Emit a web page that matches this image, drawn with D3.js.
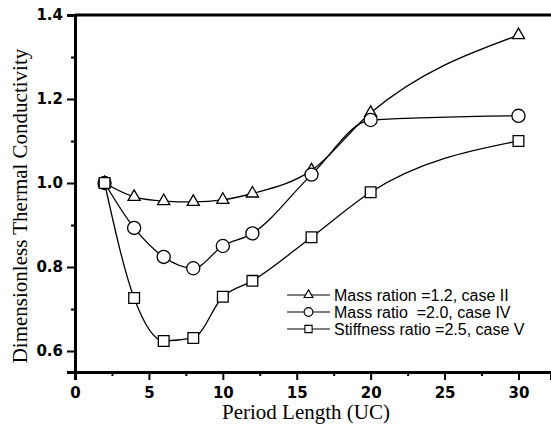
<!DOCTYPE html>
<html>
<head>
<meta charset="utf-8">
<script src="https://cdn.jsdelivr.net/npm/d3@7"></script>
<style>
  body { margin: 0; background: #fff; }
  svg { display: block; }
</style>
</head>
<body>
<div class="chart"></div>
<script>
// period lengths (UC) where each case was computed
const periods = [2, 4, 6, 8, 10, 12, 16, 20, 30];

// dimensionless thermal conductivity
const massRation12 = [1.0, 0.967, 0.957, 0.955, 0.96, 0.975, 1.03, 1.167, 1.352];
const massRatio20 = [1.0, 0.893, 0.824, 0.797, 0.85, 0.88, 1.02, 1.15, 1.16];
const stiffness25 = [1.0, 0.726, 0.624, 0.631, 0.729, 0.767, 0.871, 0.978, 1.10];

const seriesNames = [
  'Mass ration =1.2, case II',
  'Mass ratio  =2.0, case IV',
  'Stiffness ratio =2.5, case V'
];

const xTicks = [0, 5, 10, 15, 20, 25, 30];
const xMinor = [2.5, 7.5, 12.5, 17.5, 22.5, 27.5];
const yTicks = [0.6, 0.8, 1.0, 1.2, 1.4];
const yMinor = [0.7, 0.9, 1.1, 1.3];

const dims = { width: 551, height: 434 };
const margin = { left: 75, right: 0, top: 15, bottom: 62 };

const svg = d3.select('.chart')
  .append('svg')
  .attr('width', dims.width)
  .attr('height', dims.height);

const x = d3.scaleLinear()
  .domain([0, 32.2])
  .range([margin.left, dims.width - margin.right]);
const y = d3.scaleLinear()
  .domain([0.55, 1.4])
  .range([dims.height - margin.bottom, margin.top]);

const series = [
  { name: seriesNames[0], values: massRation12, symbol: d3.symbolTriangle, size: 64, legendSize: 34 },
  { name: seriesNames[1], values: massRatio20, symbol: d3.symbolCircle, size: 135, legendSize: 60 },
  { name: seriesNames[2], values: stiffness25, symbol: d3.symbolSquare, size: 115, legendSize: 52 }
];

// smooth curves through the points
const line = d3.line()
  .x(d => x(d[0]))
  .y(d => y(d[1]))
  .curve(d3.curveMonotoneX);

svg.append('g')
  .selectAll('path')
  .data(series)
  .enter()
  .append('path')
  .attr('d', s => line(periods.map((p, i) => [p, s.values[i]])))
  .attr('fill', 'none')
  .attr('stroke', '#000')
  .attr('stroke-width', 1.3);

// markers
series.forEach(s => {
  const sym = d3.symbol().type(s.symbol).size(s.size);
  svg.append('g')
    .selectAll('path')
    .data(periods.map((p, i) => [p, s.values[i]]))
    .enter()
    .append('path')
    .attr('d', sym)
    .attr('transform', d => `translate(${x(d[0])}, ${y(d[1])})`)
    .attr('fill', '#fff')
    .attr('stroke', '#000')
    .attr('stroke-width', 1.3);
});

// axes
const tickFont = 'DejaVu Sans, Verdana, sans-serif';
const legendFont = 'Liberation Sans, Arial, sans-serif';

svg.append('g')
  .attr('transform', `translate(0, ${y(0.55)})`)
  .call(d3.axisBottom(x).tickValues(xTicks).tickSize(8).tickPadding(7).tickFormat(d3.format('d')));
svg.append('g')
  .attr('transform', `translate(0, ${y(0.55)})`)
  .call(d3.axisBottom(x).tickValues(xMinor).tickSize(4).tickFormat(''))
  .select('.domain').remove();

svg.append('g')
  .attr('transform', `translate(${x(0)}, 0)`)
  .call(d3.axisLeft(y).tickValues(yTicks).tickSize(8).tickPadding(4).tickFormat(d3.format('.1f')));
svg.append('g')
  .attr('transform', `translate(${x(0)}, 0)`)
  .call(d3.axisLeft(y).tickValues(yMinor).tickSize(4).tickFormat(''))
  .select('.domain').remove();

svg.selectAll('.tick line').attr('stroke', '#000').attr('stroke-width', 2);
svg.selectAll('.domain').attr('stroke', '#000').attr('stroke-width', 3);
svg.selectAll('.tick text')
  .attr('fill', '#000')
  .style('font-family', tickFont)
  .style('font-weight', 'bold')
  .style('font-size', '15px');

// top frame line
svg.append('line')
  .attr('x1', x(0)).attr('x2', x(32.2))
  .attr('y1', y(1.4)).attr('y2', y(1.4))
  .attr('stroke', '#000')
  .attr('stroke-width', 3);

// axis titles
svg.append('text')
  .attr('x', 306)
  .attr('y', 419)
  .attr('text-anchor', 'middle')
  .style('font-family', 'Liberation Serif, Times New Roman, serif')
  .style('font-size', '21px')
  .text('Period Length (UC)');

svg.append('text')
  .attr('transform', 'translate(27, 206) rotate(-90)')
  .attr('text-anchor', 'middle')
  .style('font-family', 'Liberation Serif, Times New Roman, serif')
  .style('font-size', '21px')
  .text('Dimensionless Thermal Conductivity');

// legend
const legendGroup = svg.append('g')
  .attr('transform', 'translate(287, 295)');

const legendRows = legendGroup.selectAll('g')
  .data(series)
  .enter()
  .append('g')
  .attr('transform', (d, i) => `translate(0, ${i * 17})`);

legendRows.append('line')
  .attr('x1', 0).attr('x2', 43)
  .attr('stroke', '#000')
  .attr('stroke-width', 1.2);

legendRows.append('path')
  .attr('d', d => d3.symbol().type(d.symbol).size(d.legendSize)())
  .attr('transform', 'translate(21.5, 0)')
  .attr('fill', '#fff')
  .attr('stroke', '#000')
  .attr('stroke-width', 1.1);

legendRows.append('text')
  .attr('x', 47)
  .attr('dy', '0.35em')
  .style('font-family', legendFont)
  .style('font-size', '16px')
  .style('white-space', 'pre')
  .text(d => d.name);
</script>
</body>
</html>
